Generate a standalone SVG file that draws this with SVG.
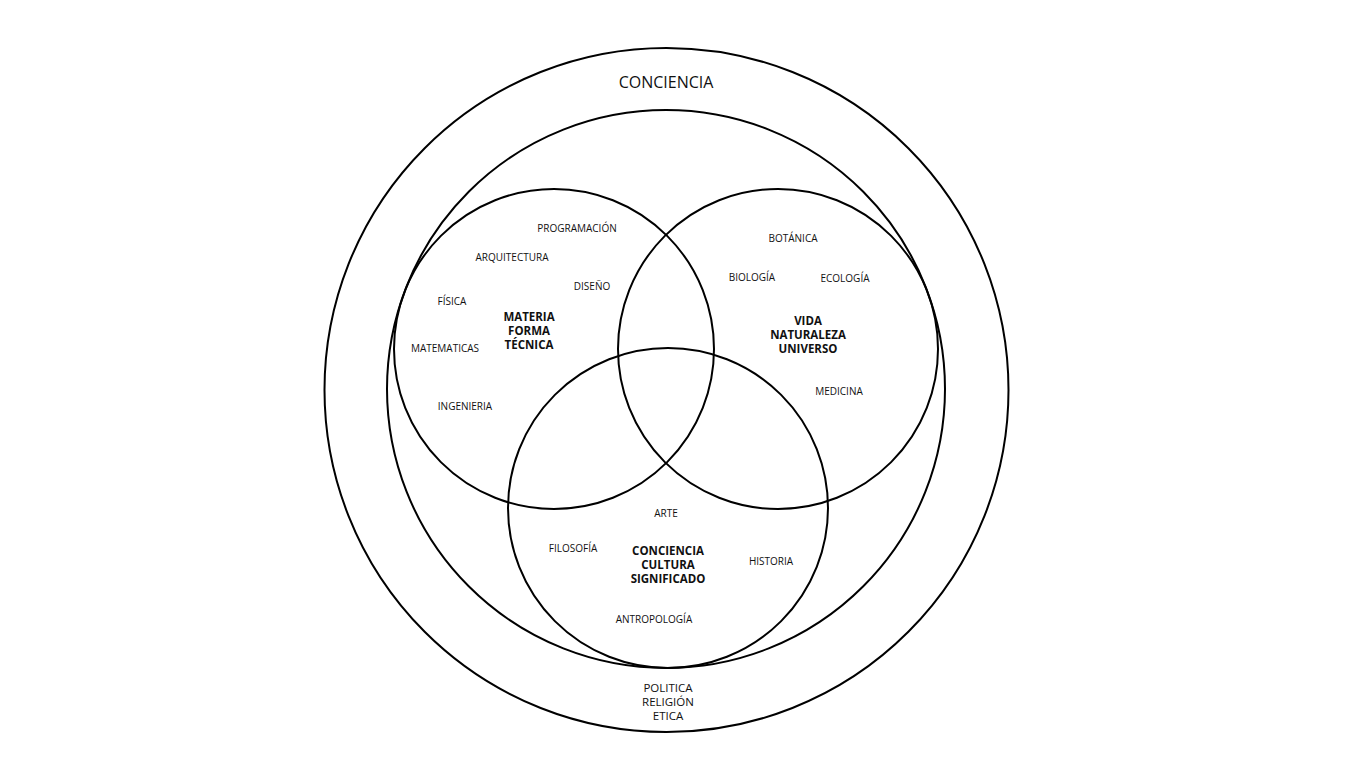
<svg xmlns="http://www.w3.org/2000/svg" width="1366" height="768" viewBox="0 0 1366 768">
<style>
.c{fill:none;stroke:#000;stroke-width:2}
text{font-family:"Open Sans","Noto Sans","DejaVu Sans",sans-serif;fill:#111;text-anchor:middle}
.s{font-size:10px}
.m{font-size:11.5px}
.b{font-size:11.5px;font-weight:bold}
.t{font-size:16px}
</style>
<rect width="1366" height="768" fill="#fff"/>
<g id="conciencia">
<circle class="c" cx="666.5" cy="390" r="342"/>
<text class="t" x="666" y="88">CONCIENCIA</text>
<text class="m" x="668" y="692">POLITICA</text>
<text class="m" x="668" y="706">RELIGIÓN</text>
<text class="m" x="668" y="720">ETICA</text>
</g>
<g id="inner">
<circle class="c" cx="666" cy="389" r="279"/>
</g>
<g id="materia">
<circle class="c" cx="554" cy="349" r="160"/>
<text class="s" x="577" y="231.5">PROGRAMACIÓN</text>
<text class="s" x="512" y="260.5">ARQUITECTURA</text>
<text class="s" x="592" y="289.5">DISEÑO</text>
<text class="s" x="452" y="304.5">FÍSICA</text>
<text class="s" x="445" y="351.5">MATEMATICAS</text>
<text class="s" x="465" y="409.5">INGENIERIA</text>
<text class="b" x="529" y="321">MATERIA</text>
<text class="b" x="529" y="335">FORMA</text>
<text class="b" x="529" y="349">TÉCNICA</text>
</g>
<g id="vida">
<circle class="c" cx="778" cy="349" r="160"/>
<text class="s" x="793" y="241.5">BOTÁNICA</text>
<text class="s" x="752" y="280.5">BIOLOGÍA</text>
<text class="s" x="845" y="281.5">ECOLOGÍA</text>
<text class="s" x="839" y="394.5">MEDICINA</text>
<text class="b" x="808" y="325">VIDA</text>
<text class="b" x="808" y="339">NATURALEZA</text>
<text class="b" x="808" y="353">UNIVERSO</text>
</g>
<g id="cultura">
<circle class="c" cx="668" cy="508" r="160"/>
<text class="s" x="666" y="516.5">ARTE</text>
<text class="s" x="573" y="551.5">FILOSOFÍA</text>
<text class="s" x="771" y="564.5">HISTORIA</text>
<text class="s" x="654" y="622.5">ANTROPOLOGÍA</text>
<text class="b" x="668" y="555">CONCIENCIA</text>
<text class="b" x="668" y="569">CULTURA</text>
<text class="b" x="668" y="583">SIGNIFICADO</text>
</g>
<g id="connectors"></g>
</svg>
